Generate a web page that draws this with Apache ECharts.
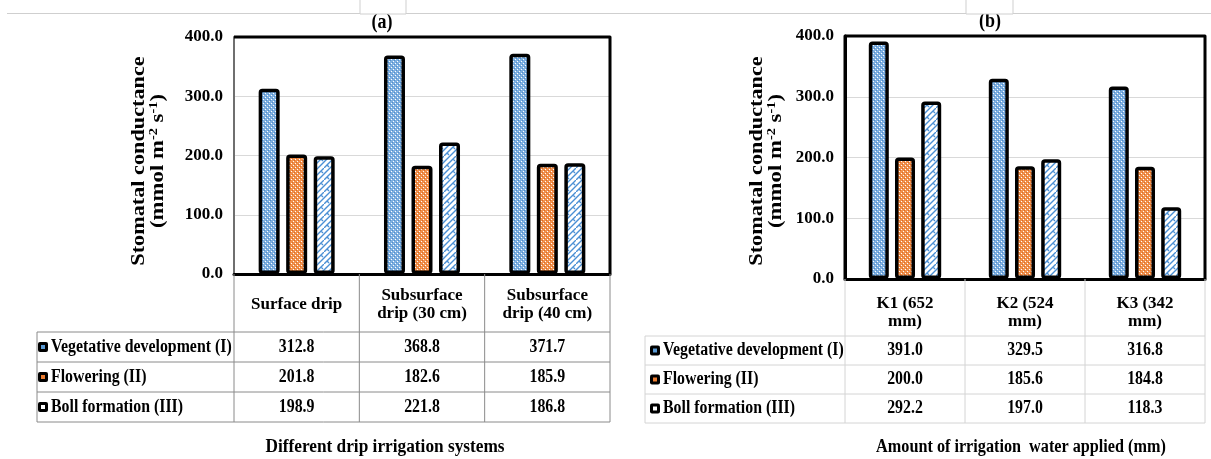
<!DOCTYPE html>
<html>
<head>
<meta charset="utf-8">
<script src="https://cdn.jsdelivr.net/npm/echarts@6/dist/echarts.min.js"></script>
<style>
html,body{margin:0;padding:0;background:#fff;}
#c{width:1211px;height:459px;}
</style>
</head>
<body>
<div id="c"></div>
<script>
// ---------------- DATA ----------------
const catsA = ['Surface drip', 'Subsurface\ndrip (30 cm)', 'Subsurface\ndrip (40 cm)'];
const catsB = ['K1 (652\nmm)', 'K2 (524\nmm)', 'K3 (342\nmm)'];
const seriesNames = ['Vegetative development (I)', 'Flowering (II)', 'Boll formation (III)'];
const vegA = [312.8, 368.8, 371.7];
const flowA = [201.8, 182.6, 185.9];
const bollA = [198.9, 221.8, 186.8];
const vegB = [391.0, 329.5, 316.8];
const flowB = [200.0, 185.6, 184.8];
const bollB = [292.2, 197.0, 118.3];
const yMin = 0, yMax = 400, yStep = 100;
const panelTitles = ['(a)', '(b)'];
const xTitles = ['Different drip irrigation systems', 'Amount of irrigation  water applied (mm)'];
const yTitle1 = 'Stomatal conductance';

// ---------------- PATTERNS ----------------
function dotPattern(base, dark) {
  const c = document.createElement('canvas'); c.width = 4; c.height = 4;
  const g = c.getContext('2d');
  g.fillStyle = base; g.fillRect(0, 0, 4, 4);
  g.fillStyle = '#ffffff'; g.fillRect(1, 1, 1, 1); g.fillRect(3, 3, 1, 1);
  g.fillStyle = dark; g.fillRect(0, 2, 1, 1); g.fillRect(2, 0, 1, 1);
  return c;
}
function hatchPattern() {
  const c = document.createElement('canvas'); c.width = 12; c.height = 12;
  const g = c.getContext('2d');
  g.fillStyle = '#ffffff'; g.fillRect(0, 0, 12, 12);
  g.strokeStyle = '#4a8fd4'; g.lineWidth = 1.4;
  g.beginPath();
  g.moveTo(-1, 13); g.lineTo(13, -1);
  g.moveTo(5, 13); g.lineTo(13, 5);
  g.moveTo(-1, 7); g.lineTo(7, -1);
  g.moveTo(3, 9); g.lineTo(5, 11);
  g.moveTo(9, 3); g.lineTo(11, 5);
  g.stroke();
  return c;
}
const patBlue = dotPattern('#7fb0e0', '#4f8ccc');
const patOrange = dotPattern('#f0914f', '#df6c1e');
const patHatch = hatchPattern();
const fills = [
  { image: patBlue, repeat: 'repeat' },
  { image: patOrange, repeat: 'repeat' },
  { image: patHatch, repeat: 'repeat' }
];
const keyInner = ['#5b9bd5', '#ed7d31', '#ffffff'];

const FONT = 'Liberation Serif';
const gridA = { left: 234, top: 37, width: 376, height: 237 };
const gridB = { left: 845, top: 36, width: 360, height: 243 };

function yAxisCfg(gridIndex, lineColor, lineWidth, margin) {
  return {
    type: 'value', gridIndex, min: yMin, max: yMax, interval: yStep,
    axisLine: { show: true, lineStyle: { color: lineColor, width: lineWidth } },
    axisTick: { show: false },
    axisLabel: { formatter: v => v.toFixed(1), fontFamily: FONT, fontWeight: 'bold', fontSize: 17, color: '#000', margin },
    splitLine: { show: true, lineStyle: { color: '#d9d9d9', width: 1 } }
  };
}
function xAxisCfg(gridIndex, data, margin) {
  return {
    type: 'category', gridIndex, data,
    axisLine: { show: true, lineStyle: { color: '#000', width: 3 } },
    axisTick: { show: false },
    axisLabel: { interval: 0, fontFamily: FONT, fontWeight: 'bold', fontSize: 17, color: '#000', lineHeight: 18, verticalAlign: 'middle', margin }
  };
}
function barSeries(xi, data, k, bw) {
  return {
    type: 'bar', name: seriesNames[k], xAxisIndex: xi, yAxisIndex: xi, data,
    barWidth: bw, barGap: '31%',
    itemStyle: { color: fills[k], borderColor: '#000', borderWidth: 3.5, borderRadius: 2 },
    emphasis: { disabled: true }, animation: false
  };
}

const chart = echarts.init(document.getElementById('c'), null, { renderer: 'canvas' });
chart.setOption({
  backgroundColor: '#ffffff',
  animation: false,
  grid: [gridA, gridB],
  xAxis: [xAxisCfg(0, catsA, 31), xAxisCfg(1, catsB, 34)],
  yAxis: [yAxisCfg(0, '#6f6f6f', 2, 11), yAxisCfg(1, '#000', 3, 11)],
  series: [
    barSeries(0, vegA, 0, 21), barSeries(0, flowA, 1, 21), barSeries(0, bollA, 2, 21),
    barSeries(1, vegB, 0, 20), barSeries(1, flowB, 1, 20), barSeries(1, bollB, 2, 20)
  ]
});

// ---------------- TABLES & DECORATION ----------------
const G = [];
function line(x1, y1, x2, y2, color, w) {
  G.push({ type: 'line', silent: true, z: 10, shape: { x1, y1, x2, y2 }, style: { stroke: color, lineWidth: w } });
}
function txt(x, y, text, align, size, sx) {
  G.push({ type: 'text', silent: true, z: 12, x, y, scaleX: sx || 1,
    style: { text, fill: '#000', font: 'bold ' + (size || 16) + 'px "' + FONT + '"', align, verticalAlign: 'middle' } });
}
function buildTable(xi, grid, cats, dataRows, tableLeft, rowEdges, color, keyX) {
  const bottom = grid.top + grid.height;
  const right = grid.left + grid.width;
  const n = cats.length;
  for (let i = 0; i <= n; i++) {
    const x = grid.left + grid.width * i / n;
    line(x, bottom, x, rowEdges[rowEdges.length - 1], color, 1);
  }
  line(tableLeft, rowEdges[0], tableLeft, rowEdges[rowEdges.length - 1], color, 1);
  for (const y of rowEdges) line(tableLeft, y, right, y, color, 1);
  for (let r = 0; r < dataRows.length; r++) {
    const cy = (rowEdges[r] + rowEdges[r + 1]) / 2;
    G.push({ type: 'rect', silent: true, z: 12, shape: { x: keyX, y: cy - 5, width: 10, height: 10, r: 2 }, style: { fill: '#000' } });
    G.push({ type: 'rect', silent: true, z: 13, shape: { x: keyX + 3, y: cy - 2, width: 4, height: 4 }, style: { fill: keyInner[r] } });
    txt(keyX + 13, cy, seriesNames[r], 'left', 18, 0.88);
    for (let c = 0; c < n; c++) {
      const px = chart.convertToPixel({ xAxisIndex: xi }, c);
      txt(px, cy, dataRows[r][c].toFixed(1), 'center', 18, 0.88);
    }
  }
}
buildTable(0, gridA, catsA, [vegA, flowA, bollA], 37, [332, 362, 392, 422], '#8a8a8a', 38);
buildTable(1, gridB, catsB, [vegB, flowB, bollB], 645, [336, 365, 394, 423], '#d4d4d4', 650);

// plot frames
G.push({ type: 'polyline', silent: true, z: 11, shape: { points: [[234, 37], [610, 37], [610, 274]] },
  style: { stroke: '#000', lineWidth: 3, fill: null, lineJoin: 'round' } });
G.push({ type: 'polyline', silent: true, z: 11, shape: { points: [[845, 279], [845, 36], [1205, 36], [1205, 279]] },
  style: { stroke: '#000', lineWidth: 3, fill: null, lineJoin: 'round' } });

// top strip decoration
line(7, 13.5, 1211, 13.5, '#cfcfcf', 1);
G.push({ type: 'rect', silent: true, z: 14, shape: { x: 360, y: -1, width: 46, height: 15 }, style: { fill: '#fff', stroke: '#cfcfcf', lineWidth: 1 } });
G.push({ type: 'rect', silent: true, z: 14, shape: { x: 966, y: -1, width: 47, height: 15 }, style: { fill: '#fff', stroke: '#cfcfcf', lineWidth: 1 } });
line(360, 15, 360, 40, '#fff', 1.5); line(406, 15, 406, 40, '#fff', 1.5);
line(966, 15, 966, 39, '#fff', 1.5); line(1013, 15, 1013, 39, '#fff', 1.5);

// panel titles
txt(382, 23, panelTitles[0], 'center', 20, 0.9);
txt(990, 22, panelTitles[1], 'center', 20, 0.9);

// x titles
txt(385, 447, xTitles[0], 'center', 18, 0.96);
txt(1021, 447, xTitles[1], 'center', 18, 0.9);

// y titles
function yTitle(x1, x2, cy) {
  G.push({ type: 'text', silent: true, z: 12, x: x1, y: cy, rotation: Math.PI / 2, scaleX: 1.17,
    style: { text: yTitle1, fill: '#000', font: 'bold 19px "' + FONT + '"', align: 'center', verticalAlign: 'middle' } });
  G.push({ type: 'text', silent: true, z: 12, x: x2, y: cy, rotation: Math.PI / 2, scaleX: 1.2,
    style: {
      text: '(mmol m{sup|-2} s{sup|-1})', fill: '#000', font: 'bold 19px "' + FONT + '"', align: 'center', verticalAlign: 'middle',
      rich: { sup: { fontFamily: FONT, fontWeight: 'bold', fontSize: 12, fill: '#000', padding: [0, 0, 9, 0] } }
    } });
}
yTitle(139, 158, 161);
yTitle(757, 776, 161);

chart.setOption({ graphic: G });
</script>
</body>
</html>
